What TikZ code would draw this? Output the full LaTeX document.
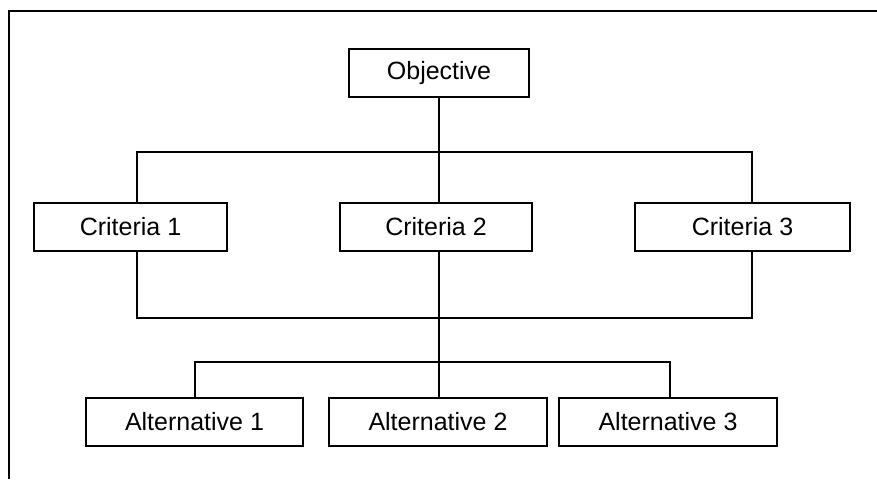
\documentclass[tikz,border=0pt]{standalone}
\usepackage{fontspec}
\setmainfont{Liberation Sans}
\begin{document}
\begin{tikzpicture}[x=1pt,y=-1pt,
  box/.style={draw, line width=1.3pt, minimum height=48pt, inner sep=0pt,
    font=\fontsize{25}{30}\selectfont},
  link/.style={line width=1.3pt},
  frame/.style={line width=2.2pt}]
\useasboundingbox (0,0) rectangle (877,479);

% outer frame (top and left edges)
\coordinate (fbl) at (9,479);
\coordinate (ftl) at (9,11);
\coordinate (ftr) at (877,11);
\draw[frame] (fbl) -- (ftl) -- (ftr);

% boxes
\node[box, minimum width=180pt] (obj) at (439,73) {Objective};
\node[box, minimum width=193pt] (c1) at (130.5,227) {Criteria 1};
\node[box, minimum width=192pt] (c2) at (436,227) {Criteria 2};
\node[box, minimum width=215pt] (c3) at (742.5,227) {Criteria 3};
\node[box, minimum width=217pt] (a1) at (194.5,422) {Alternative 1};
\node[box, minimum width=218pt] (a2) at (438,422) {Alternative 2};
\node[box, minimum width=218pt] (a3) at (668,422) {Alternative 3};

% junction points
\coordinate (t1) at (137,152);
\coordinate (t3) at (752,152);
\coordinate (b1) at (137,318);
\coordinate (b3) at (752,318);
\coordinate (m) at (439,318);
\coordinate (s1) at (195,362);
\coordinate (s3) at (670,362);

% objective to criteria
\draw[link] (obj.south) -- (obj.south |- c2.north);
\draw[link] (t1 |- c1.north) -- (t1) -- (t3) -- (t3 |- c3.north);

% criteria to alternatives
\draw[link] (b1 |- c1.south) -- (b1) -- (b3) -- (b3 |- c3.south);
\draw[link] (m |- c2.south) -- (m |- a2.north);
\draw[link] (s1 |- a1.north) -- (s1) -- (s3) -- (s3 |- a3.north);
\end{tikzpicture}
\end{document}
